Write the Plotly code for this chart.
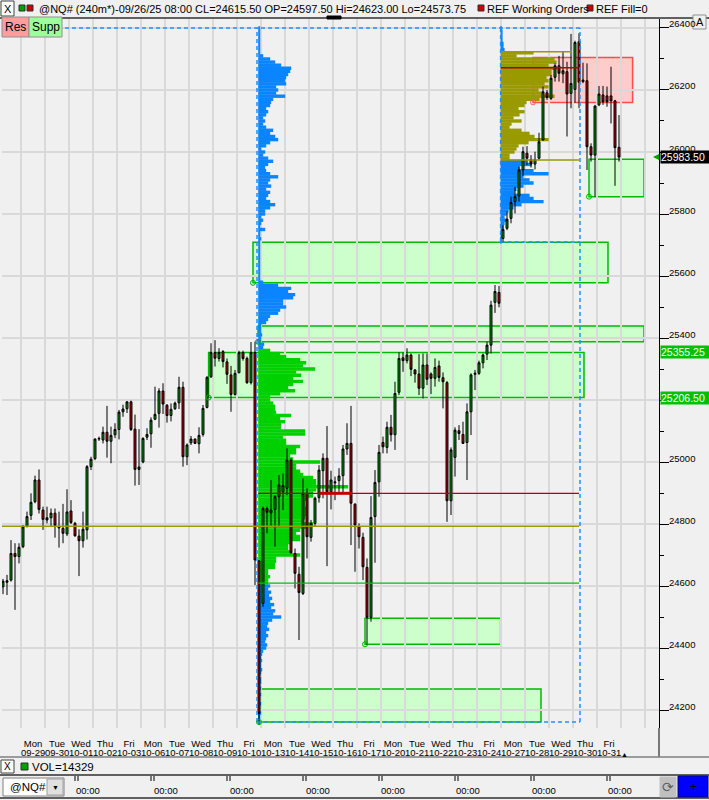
import plotly.graph_objects as go

# ---------------- DATA ----------------
bar_index = list(range(-5, 150))

open_ = [24597.5, 24612, 24619, 24705, 24695, 24727, 24793, 24828, 24872, 24942,
         24845, 24820, 24820, 24835, 24791, 24786, 24768, 24842, 24802, 24761,
         24746, 24781, 24985, 25011, 25074, 25071, 25096, 25067, 25088, 25105,
         25162, 25172, 25194, 25106, 24976, 25000, 25080, 25091, 25138, 25157,
         25229, 25183, 25150, 25172, 25191, 25241, 25017, 25062, 25074, 25059,
         25089, 25176, 25275, 25353, 25334, 25356, 25323, 25281, 25218, 25288,
         25353, 25334, 25256, 25353, 24681, 24544, 24850, 24836, 24847, 24888,
         24904, 24915, 25006, 24705, 24638, 24576, 24899, 24757, 24802, 24885,
         24972, 25012, 24904, 24936, 24940, 24956, 25042, 25060, 24864, 24791,
         24757, 24660, 24499, 24824, 24936, 25063, 25047, 25112, 25088, 25225,
         25336, 25327, 25345, 25297, 25284, 25238, 25313, 25284, 25270, 25310,
         25272, 25256, 24875, 25015, 25101, 25089, 25063, 25162, 25283, 25286,
         25320, 25348, 25377, 25515, 25547, 25721, 25754, 25786, 25840, 25858,
         25942, 25996, 25976, 25961, 25980, 26039, 26191, 26173, 26241, 26278,
         26252, 26259, 26189, 26202, 26356, 26232, 26230, 26017, 25990, 26152,
         26184, 26181, 26181, 26165, 26015]
high = [24623, 24636, 24748, 24738, 24738, 24797, 24840, 24899, 24956, 24976,
        24856, 24856, 24850, 24850, 24840, 24865, 24912, 24877, 24807, 24783,
        24840, 24990, 25017, 25076, 25082, 25114, 25181, 25114, 25125, 25168,
        25185, 25196, 25198, 25153, 25106, 25080, 25109, 25144, 25243, 25238,
        25254, 25187, 25189, 25195, 25275, 25259, 25060, 25084, 25076, 25112,
        25184, 25277, 25383, 25393, 25367, 25361, 25334, 25310, 25297, 25359,
        25359, 25340, 25387, 25388, 24684, 24856, 24856, 24942, 24893, 24958,
        24963, 25044, 25012, 24721, 24662, 24947, 24915, 24813, 24888, 24990,
        25028, 25116, 24972, 24953, 24980, 25055, 25125, 25181, 24867, 24802,
        24772, 24689, 24890, 24974, 25055, 25082, 25130, 25152, 25259, 25354,
        25353, 25367, 25350, 25299, 25348, 25350, 25350, 25289, 25334, 25327,
        25289, 25261, 25047, 25112, 25119, 25130, 25189, 25286, 25297, 25327,
        25350, 25388, 25520, 25571, 25568, 25764, 25808, 25856, 25888, 25953,
        26017, 26019, 25990, 26001, 26062, 26211, 26200, 26248, 26286, 26310,
        26324, 26291, 26381, 26359, 26383, 26288, 26286, 26028, 26152, 26213,
        26213, 26211, 26275, 26168, 26119]
low = [24573.75, 24571, 24614, 24523, 24673, 24722, 24789, 24813, 24867, 24834,
       24781, 24802, 24791, 24756, 24724, 24738, 24761, 24800, 24759, 24632,
       24724, 24750, 24974, 25006, 25068, 25060, 25014, 24996, 25077, 25073,
       25146, 25158, 25100, 24924, 24926, 24996, 25071, 25046, 25135, 25111,
       25155, 25127, 25131, 25168, 25171, 24985, 24990, 25055, 25058, 25028,
       25082, 25173, 25271, 25308, 25324, 25305, 25252, 25162, 25214, 25286,
       25327, 25252, 25250, 24603, 24157, 24533, 24770, 24791, 24727, 24791,
       24845, 24893, 24705, 24592, 24426, 24571, 24689, 24743, 24793, 24869,
       24883, 24664, 24847, 24877, 24904, 24899, 25023, 24732, 24646, 24721,
       24619, 24410, 24485, 24675, 24888, 25028, 25028, 25066, 25039, 25216,
       25291, 25318, 25277, 25256, 25216, 25205, 25248, 25219, 25243, 25259,
       25173, 24807, 24829, 24953, 25071, 25058, 24942, 25087, 25232, 25281,
       25302, 25329, 25350, 25481, 25499, 25707, 25748, 25770, 25802, 25840,
       25923, 25958, 25950, 25944, 25974, 26037, 26168, 26168, 26227, 26227,
       26222, 26050, 26141, 26159, 26141, 26222, 25942, 25969, 25856, 26148,
       26152, 26146, 26092, 25891, 25969]
close = [24615.5, 24617, 24705, 24695, 24725, 24791, 24824, 24870, 24942, 24847,
         24815, 24813, 24835, 24795, 24788, 24770, 24839, 24805, 24762, 24746,
         24783, 24985, 25009, 25074, 25076, 25096, 25067, 25086, 25105, 25161,
         25171, 25194, 25105, 24976, 24984, 25076, 25089, 25135, 25154, 25229,
         25187, 25150, 25170, 25190, 25241, 25017, 25055, 25074, 25060, 25086,
         25173, 25273, 25353, 25335, 25353, 25324, 25283, 25218, 25286, 25353,
         25334, 25256, 25353, 24684, 24189, 24850, 24838, 24845, 24888, 24926,
         24924, 25006, 24707, 24641, 24579, 24899, 24759, 24802, 24883, 24974,
         25012, 24904, 24942, 24933, 24955, 25042, 25060, 24867, 24797, 24759,
         24662, 24499, 24821, 24934, 25031, 25049, 25112, 25088, 25221, 25334,
         25327, 25345, 25299, 25284, 25238, 25313, 25267, 25270, 25305, 25273,
         25259, 24875, 25039, 25103, 25092, 25060, 25162, 25281, 25286, 25320,
         25345, 25377, 25506, 25550, 25512, 25750, 25783, 25837, 25856, 25942,
         26001, 25980, 25961, 25976, 26033, 26194, 26176, 26238, 26278, 26254,
         26262, 26187, 26221, 26353, 26225, 26227, 26017, 25990, 26148, 26187,
         26162, 26162, 26165, 26014, 25983.5]

day_names = ["Mon", "Tue", "Wed", "Thu", "Fri"] * 5
day_dates = ["09-29", "09-30", "10-01", "10-02", "10-03", "10-06", "10-07", "10-08", "10-09", "10-10",
             "10-13", "10-14", "10-15", "10-16", "10-17", "10-20", "10-21", "10-22", "10-23", "10-24",
             "10-27", "10-28", "10-29", "10-30", "10-31"]

price_ticks = [24200, 24400, 24600, 24800, 25000, 25200, 25400, 25600, 25800, 26000, 26200, 26400]
price_labels = [24200, 24400, 24600, 24800, 25000, 25400, 25600, 25800, 26000, 26200, 26400]
price_minor = [24300, 24500, 24700, 24900, 25100, 25300, 25500, 25700, 25900, 26100, 26300]

# volume profile (10-point levels)
left_prof_levels = list(range(24160, 26401, 10))
left_prof_vol = [2, 2, 2, 3, 2, 2, 3, 2, 2, 3, 2, 3, 2, 3, 3, 2, 3, 4, 3, 3, 4, 3, 4, 5,
                 8, 9, 7, 8, 10, 8, 11, 9, 10, 14, 23, 15, 17, 13, 16, 12, 14, 11, 13, 10, 12,
                 10, 10, 12, 10, 10, 17, 17, 18, 18,
                 42, 32, 30, 30, 32, 42, 42, 38, 42, 50,
                 55, 45, 47, 48, 48, 48, 47, 47, 48, 55,
                 55, 58, 90, 58, 58, 55, 45, 42, 38, 38,
                 62, 35, 32, 38, 38, 42, 28, 28, 25, 47,
                 47, 23, 23, 27, 22, 33, 18, 17, 17, 15,
                 12, 12, 22, 37, 30, 35, 45, 35, 43, 38,
                 57, 45, 48, 42, 28, 22, 12,
                 5, 6, 3, 3, 4, 3, 3, 3,
                 8, 10, 12, 20, 22, 28, 25, 25, 35, 37, 30, 33, 20,
                 5, 2, 2, 2, 2, 2, 2, 2, 2, 2, 2, 2, 2, 2,
                 3, 2, 2, 7, 2, 3, 5, 3, 7, 7, 12, 17, 12, 8, 10, 12, 8, 13, 10, 12, 20, 12, 8, 7, 10, 15, 10, 5,
                 7, 3, 8, 12, 20, 17, 12, 15, 8, 5,
                 7, 5, 8, 10, 8, 12, 13, 15, 27, 18,
                 20, 18, 28, 27, 28, 30, 32, 33, 23, 17,
                 12, 5, 2, 2, 2, 2, 2, 2, 2, 2, 2]
left_value_area = (24610, 25360)
left_val, left_poc = 24609, 24899

right_prof_levels = list(range(25710, 26401, 10))
right_prof_vol = [1, 1, 2, 3, 3, 3, 4, 6, 4, 6, 8, 13, 21, 43, 33, 29, 14, 16, 23, 33, 29, 23, 48, 33, 19, 31, 26,
                  9, 9, 14, 16, 18, 28, 48, 34, 29, 21, 9, 11, 21, 13, 19, 24, 18, 24, 26, 39, 54, 41, 38, 48,
                  44, 48, 46, 51, 51, 56, 48, 56, 54, 16, 33,
                  4, 3, 3, 2, 2, 2, 2, 1]
right_value_area = (25980, 26320)
right_vah, right_poc, right_val = 26323, 26272, 25974
olive_level = 24793

# zones: (bar_from, bar_to, price_low, price_high)
supp_zones = [(57.5, 146.25, 25578, 25709), (58.75, 155.25, 25388, 25439), (46.4, 140.25, 25208, 25353),
              (85.5, 119.4, 24412, 24496), (59.0, 129.5, 24161, 24268), (141.5, 155.25, 25856, 25977)]
res_zones = [(127.5, 152.4, 26160, 26305)]

last_price = 25983.50
zone_tags = [25355.25, 25206.50]

# ---------------- FIGURE ----------------
W, H = 709, 800
L, R, T, B = 2, 50, 19, 72
def PX(px): return (px - L) / (W - L - R)
def PY(py): return (H - B - py) / (H - T - B)

FONT = "Liberation Sans"
fig = go.Figure()

LEFT_BASE, RIGHT_BASE, PROF_END = 58.8, 119.4, 139.25
VOL_SCALE = 0.25
BLUE, GREEN, OLIVE = "#0a84ff", "#00d000", "#999900"

lc = [GREEN if left_value_area[0] <= p <= left_value_area[1] else BLUE for p in left_prof_levels]
fig.add_trace(go.Bar(y=left_prof_levels, x=[v * VOL_SCALE for v in left_prof_vol], base=LEFT_BASE,
                     orientation="h", width=11, marker=dict(color=lc, line=dict(width=0)), hoverinfo="skip"))
rc = [OLIVE if right_value_area[0] <= p <= right_value_area[1] else BLUE for p in right_prof_levels]
fig.add_trace(go.Bar(y=right_prof_levels, x=[v * VOL_SCALE for v in right_prof_vol], base=RIGHT_BASE,
                     orientation="h", width=11, marker=dict(color=rc, line=dict(width=0)), hoverinfo="skip"))

def hline(y, x0, x1, color, width=1.2, dash=None):
    fig.add_trace(go.Scatter(x=[x0, x1], y=[y, y], mode="lines",
                             line=dict(color=color, width=width, dash=dash), hoverinfo="skip"))

hline(olive_level, -5.25, 139.0, OLIVE, 1.5)
hline(left_poc, LEFT_BASE, 139.0, "#b00000", 1.3)
hline(left_poc, 74.25, 82.25, "#c00000", 3)
hline(left_val, LEFT_BASE, 139.0, "#00c000", 1.2)
hline(right_vah, RIGHT_BASE, 137.25, OLIVE, 1.5)
hline(right_poc, RIGHT_BASE, 138.75, "#b00000", 1.5)
hline(right_val, RIGHT_BASE, 139.0, OLIVE, 1.5)

# dashed profile frames
DASH = "4px,3px"
top_p, bot_p = 26400, 24161
hline(top_p, -5.25, PROF_END, "#1e90ff", 1.5, DASH)
hline(bot_p, 58.5, PROF_END, "#1e90ff", 1.5, DASH)
hline(25710, RIGHT_BASE, PROF_END, "#1e90ff", 1.5, DASH)
for xv, y0 in [(58.5, bot_p), (PROF_END, bot_p), (RIGHT_BASE, 25710)]:
    fig.add_trace(go.Scatter(x=[xv, xv], y=[y0, top_p], mode="lines",
                             line=dict(color="#1e90ff", width=1.5, dash=DASH), hoverinfo="skip"))

fig.add_trace(go.Candlestick(
    x=bar_index, open=open_, high=high, low=low, close=close,
    increasing=dict(line=dict(color="black", width=1), fillcolor="#00a000"),
    decreasing=dict(line=dict(color="black", width=1), fillcolor="#c80000"),
    whiskerwidth=0, hoverinfo="skip"))

# zone anchor circles
cx = [z[0] for z in supp_zones] + [z[0] for z in res_zones]
cy = [z[2] for z in supp_zones] + [z[2] for z in res_zones]
cc = ["#00b000"] * len(supp_zones) + ["#ff6060"] * len(res_zones)
fig.add_trace(go.Scatter(x=cx, y=cy, mode="markers",
                         marker=dict(symbol="circle-open", size=5, color=cc, line=dict(width=1)),
                         hoverinfo="skip"))

shapes = []
for x0, x1, p0, p1 in supp_zones:
    shapes.append(dict(type="rect", xref="x", yref="y", x0=x0, x1=x1, y0=p0, y1=p1,
                       fillcolor="#ccffcc", line=dict(color="#00bb00", width=1.5), layer="below"))
for x0, x1, p0, p1 in res_zones:
    shapes.append(dict(type="rect", xref="x", yref="y", x0=x0, x1=x1, y0=p0, y1=p1,
                       fillcolor="#ffcccc", line=dict(color="#ff4c4c", width=1.5), layer="below"))

def prect(x0, y0, x1, y1, fill, line="#808080", lw=1):
    shapes.append(dict(type="rect", xref="paper", yref="paper", x0=PX(x0), x1=PX(x1), y0=PY(y0), y1=PY(y1),
                       fillcolor=fill, line=dict(color=line, width=lw), layer="above"))
def pline(x0, y0, x1, y1, color="#404040", lw=1):
    shapes.append(dict(type="line", xref="paper", yref="paper", x0=PX(x0), x1=PX(x1), y0=PY(y0), y1=PY(y1),
                       line=dict(color=color, width=lw), layer="above"))

# header
prect(0, 0, 709, 18, "#f0f0f0", "#f0f0f0", 0)
pline(0, 18, 709, 18, "#303030", 1.5)
prect(1, 1, 14, 16, "white", "#404040")
prect(19, 5, 25, 11, "#00a000", "#303030")
prect(27, 5, 33, 11, "#c80000", "#303030")
prect(478, 5, 484, 11, "#c80000", "#303030")
prect(587, 5, 593, 11, "#c80000", "#303030")
prect(327, 16, 341, 19, "black", "black")
# Res / Supp buttons
prect(2, 17, 29, 37, "#ff9c9c", "#909090")
prect(29, 17, 62, 37, "#9cff9c", "#909090")
# A button
prect(693, 15, 706, 29, "#f0f0f0", "#909090")
# axis extension / bottom panels
pline(659, 728, 659, 757, "black", 1)
pline(0, 757, 709, 757, "#808080", 1.5)
prect(1, 760, 14, 773, "white", "#404040")
prect(21, 763, 28, 770, "#00a000", "#303030")
pline(0, 775, 709, 775, "#303030", 1.5)
pline(0, 798, 709, 798, "#303030", 1.5)
prect(3, 778, 64, 796, "white", "#808080")
prect(47, 779, 63, 795, "#e0e0e0", "#a0a0a0")
prect(660, 777, 676, 797, "#c0c0c0", "#c0c0c0")
prect(678, 776, 708, 797, "#0000ff", "#000080")
for tx in [75, 151, 227, 303, 379, 455, 531, 607]:
    pline(tx, 776, tx, 781, "black", 1)
    pline(tx + 3, 776, tx + 3, 781, "black", 1)
# last price arrow
shapes.append(dict(type="path", xref="paper", yref="paper",
                   path=f"M {PX(653)},{PY(157)} L {PX(659)},{PY(154)} L {PX(659)},{PY(160)} Z",
                   fillcolor="#00a000", line=dict(width=0), layer="above"))

ann = []
def text(x, y, s, size=12, color="black", anchor="left", **kw):
    ann.append(dict(x=PX(x), y=PY(y), xref="paper", yref="paper", text=s, showarrow=False,
                    xanchor=anchor, yanchor="middle", font=dict(family=FONT, size=size, color=color), **kw))

text(7.5, 9, "X", 11, anchor="center")
text(37, 9, "@NQ# (240m*)-09/26/25 08:00 CL=24615.50 OP=24597.50 Hi=24623.00 Lo=24573.75", 11)
text(485, 9, "REF Working Orders", 11)
text(594, 9, "REF Fill=0", 11)
text(15.5, 27, "Res", 12, anchor="center")
text(45.5, 27, "Supp", 12, anchor="center")
text(699.5, 22, "A", 11, anchor="center")
text(7.5, 767, "X", 10, anchor="center")
text(30, 767, "VOL=14329", 11.5)
text(8, 787, "@NQ#", 11.5)
text(55, 787, "▼", 7, anchor="center")
for tx in [88, 166, 242, 318, 393, 468, 544, 620]:
    text(tx, 790, "00:00", 9.5, anchor="center")
text(668, 787, "⟳", 14, color="#606060", anchor="center")
text(693, 787, "+", 12, anchor="center")
text(624, 754, "▲", 7, anchor="center")

# date row under the weekday tick labels
for i, d in enumerate(day_dates):
    ann.append(dict(x=2.5 + 6 * i, y=PY(752), xref="x", yref="paper", text=d, showarrow=False,
                    xanchor="center", yanchor="middle", font=dict(family=FONT, size=9.5, color="black")))

for p in price_labels:
    ann.append(dict(x=1, y=p, xref="paper", yref="y", text=str(p), showarrow=False, xanchor="left",
                    yanchor="middle", xshift=8, yshift=4, font=dict(family=FONT, size=9.5, color="black")))
ann.append(dict(x=1, y=last_price, xref="paper", yref="y", text=f"{last_price:.2f}", showarrow=False,
                xanchor="left", yanchor="middle", xshift=1, bgcolor="black", borderpad=0, width=48, align="left",
                font=dict(family=FONT, size=10.5, color="white")))
for p in zone_tags:
    ann.append(dict(x=1, y=p, xref="paper", yref="y", text=f"{p:.2f}", showarrow=False,
                    xanchor="left", yanchor="middle", xshift=1, bgcolor="#00c000", borderpad=0, width=48,
                    align="left", font=dict(family=FONT, size=10.5, color="white")))

fig.update_layout(
    width=W, height=H, margin=dict(l=L, r=R, t=T, b=B, autoexpand=False),
    paper_bgcolor="#f0f0f0", plot_bgcolor="#f0f0f0", showlegend=False, barmode="overlay",
    shapes=shapes, annotations=ann, hovermode=False,
    xaxis=dict(range=[-5.25, 159], showgrid=False, zeroline=False, rangeslider=dict(visible=False),
               automargin=False, tickangle=0, ticklabelstandoff=8,
               tickmode="array", tickvals=[2.5 + 6 * i for i in range(len(day_dates))],
               ticktext=day_names, ticks="",
               tickfont=dict(family=FONT, size=9.5, color="black"),
               minor=dict(tickmode="array", tickvals=[-0.5 + 6 * i for i in range(28)], showgrid=True,
                          gridcolor="#d9d9d9", gridwidth=1.5, ticks="")),
    yaxis=dict(range=[24142, 26429], side="right", tickmode="array", tickvals=price_ticks,
               automargin=False,
               showticklabels=False, ticks="outside", ticklen=9, tickcolor="black", tickwidth=1,
               showgrid=True, gridcolor="#d9d9d9", gridwidth=1.5, showline=True, linecolor="black",
               linewidth=1, zeroline=False,
               minor=dict(tickmode="array", tickvals=price_minor, ticks="outside", ticklen=4,
                          tickcolor="black", showgrid=False)),
)
fig.write_html("out.html", config={"displayModeBar": False},
               post_script="document.body.style.margin='0px';document.body.style.overflow='hidden';")
